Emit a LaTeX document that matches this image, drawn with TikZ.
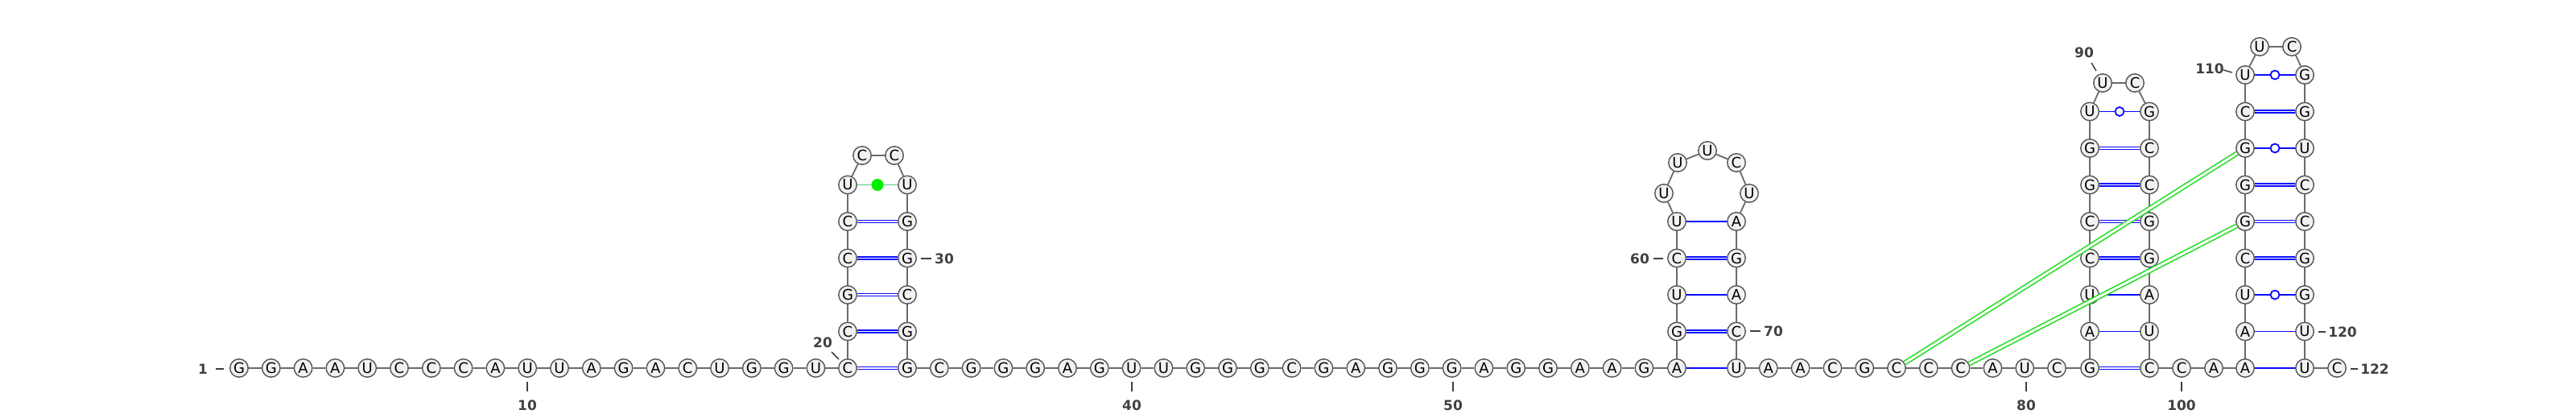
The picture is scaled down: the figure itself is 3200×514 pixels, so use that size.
\documentclass[tikz,border=0pt]{standalone}
\usepackage{fontspec}
\newfontfamily\ntfont{DejaVu Sans}
\definecolor{ntfill}{HTML}{F2F2F2}
\definecolor{ntdraw}{HTML}{555555}
\definecolor{bbcol}{HTML}{6A6A6A}
\definecolor{lblcol}{HTML}{404040}
\definecolor{pairblue}{HTML}{0A0AFF}
\definecolor{pkgreen}{HTML}{22DD22}
\definecolor{dotgreen}{HTML}{00EE00}
\definecolor{dotline}{HTML}{55CC77}
\begin{document}
\begin{tikzpicture}[x=1bp,y=-1bp,
  nt/.style={circle,draw=ntdraw,fill=ntfill,line width=1.4bp,minimum size=22.5bp,inner sep=0pt,
    font=\ntfont\fontsize{18bp}{18bp}\selectfont},
  bb/.style={draw=bbcol,line width=1.8bp},
  aupair/.style={draw=pairblue,line width=1.8bp},
  gcpair/.style={draw=pairblue,line width=1.7bp,double=white,double distance=1.5bp},
  wobble/.style={circle,draw=pairblue,fill=white,line width=1.8bp,minimum size=11bp,inner sep=0pt},
  gdotline/.style={draw=dotline,line width=1.8bp},
  gdot/.style={circle,fill=dotgreen,draw=none,minimum size=15bp,inner sep=0pt},
  pkpair/.style={draw=pkgreen,line width=1.6bp,double=white,double distance=3bp},
  lbl/.style={text=lblcol,font=\ntfont\bfseries\fontsize{17bp}{17bp}\selectfont,inner sep=0pt},
  tickline/.style={draw=lblcol,line width=1.5bp}
]
\useasboundingbox (0,0) rectangle (3200,514);

% ---- nucleotides ----
\foreach \i/\b in {1/G,2/G,3/A,4/A,5/U,6/C,7/C,8/C,9/A,10/U,11/U,12/A,13/G,14/A,15/C,16/U,17/G,18/G,19/U}
  \node[nt] (n\i) at ({297+(\i-1)*39.8},457) {\b};
% hairpin 1
\foreach \i/\b in {20/C,21/C,22/G,23/C,24/C,25/U}
  \node[nt] (n\i) at (1053,{457-(\i-20)*45.5}) {\b};
\node[nt] (n26) at (1071,193) {C};
\node[nt] (n27) at (1111,193) {C};
\foreach \i/\b in {28/U,29/G,30/G,31/C,32/G,33/G}
  \node[nt] (n\i) at (1127,{457-(33-\i)*45.5}) {\b};
\foreach \i/\b in {34/C,35/G,36/G,37/G,38/A,39/G,40/U,41/U,42/G,43/G,44/G,45/C,46/G,47/A,48/G,49/G,50/G,51/A,52/G,53/G,54/A,55/A,56/G}
  \node[nt] (n\i) at ({1127+(\i-33)*39.8},457) {\b};
% hairpin 2
\foreach \i/\b in {57/A,58/G,59/U,60/C,61/U}
  \node[nt] (n\i) at (2083,{457-(\i-57)*45.5}) {\b};
\node[nt] (n62) at (2067,240) {U};
\node[nt] (n63) at (2084,202) {U};
\node[nt] (n64) at (2121,187) {U};
\node[nt] (n65) at (2157,202) {C};
\node[nt] (n66) at (2173,240) {U};
\foreach \i/\b in {67/A,68/G,69/A,70/C,71/U}
  \node[nt] (n\i) at (2157,{457-(71-\i)*45.5}) {\b};
\foreach \i/\b in {72/A,73/A,74/C,75/G,76/C,77/C,78/C,79/A,80/U,81/C}
  \node[nt] (n\i) at ({2157+(\i-71)*39.8},457) {\b};
% hairpin 3
\foreach \i/\b in {82/G,83/A,84/U,85/C,86/C,87/G,88/G,89/U}
  \node[nt] (n\i) at (2596,{457-(\i-82)*45.5}) {\b};
\node[nt] (n90) at (2612,103) {U};
\node[nt] (n91) at (2652,103) {C};
\foreach \i/\b in {92/G,93/C,94/C,95/G,96/G,97/A,98/U,99/C}
  \node[nt] (n\i) at (2670,{457-(99-\i)*45.5}) {\b};
\node[nt] (n100) at (2710,457) {C};
\node[nt] (n101) at (2750,457) {A};
% hairpin 4
\foreach \i/\b in {102/A,103/A,104/U,105/C,106/G,107/G,108/G,109/C,110/U}
  \node[nt] (n\i) at (2789,{457-(\i-102)*45.5}) {\b};
\node[nt] (n111) at (2807,58) {U};
\node[nt] (n112) at (2847,58) {C};
\foreach \i/\b in {113/G,114/G,115/U,116/C,117/C,118/G,119/G,120/U,121/U}
  \node[nt] (n\i) at (2863,{457-(121-\i)*45.5}) {\b};
\node[nt] (n122) at (2903,457) {C};

% ---- backbone ----
\foreach \i [evaluate=\i as \j using int(\i+1)] in {1,...,121}
  \draw[bb] (n\i) -- (n\j);

% ---- base pairs ----
\foreach \a/\c in {20/33,21/32,22/31,23/30,24/29,58/70,60/68,82/99,85/96,86/95,87/94,88/93,105/118,106/117,107/116,109/114}
  \draw[gcpair] (n\a) -- (n\c);
\foreach \a/\c in {57/71,59/69,61/67,83/98,84/97,102/121,103/120}
  \draw[aupair] (n\a) -- (n\c);
\foreach \a/\c in {89/92,104/119,108/115,110/113}
  \draw[aupair] (n\a) -- (n\c) node[wobble,midway] {};
\draw[gdotline] (n25) -- (n28) node[gdot,midway] {};
% pseudoknot
\draw[pkpair] (n76) -- (n108);
\draw[pkpair] (n78) -- (n106);

% ---- position labels ----
\node[lbl] (l1) at (252,458) {1};
\draw[tickline] (268,458) -- (278,458);
\node[lbl] (l10) at (655,503) {10};
\draw[tickline] (655,474) -- (655,486);
\node[lbl] (l20) at (1022,425) {20};
\draw[tickline] (1033,437) -- (1042,446);
\node[lbl] (l30) at (1173,321) {30};
\draw[tickline] (1144,321) -- (1157,321);
\node[lbl] (l40) at (1406,503) {40};
\draw[tickline] (1406,474) -- (1406,486);
\node[lbl] (l50) at (1805,503) {50};
\draw[tickline] (1805,474) -- (1805,486);
\node[lbl] (l60) at (2037,321) {60};
\draw[tickline] (2054,321) -- (2066,321);
\node[lbl] (l70) at (2203,411) {70};
\draw[tickline] (2174,411) -- (2187,411);
\node[lbl] (l80) at (2517,503) {80};
\draw[tickline] (2517,474) -- (2517,486);
\node[lbl] (l90) at (2589,65) {90};
\draw[tickline] (2598,78) -- (2604,88);
\node[lbl] (l100) at (2710,503) {100};
\draw[tickline] (2710,474) -- (2710,486);
\node[lbl] (l110) at (2745,85) {110};
\draw[tickline] (2762,87) -- (2773,90);
\node[lbl] (l120) at (2910,412) {120};
\draw[tickline] (2880,412) -- (2889,412);
\node[lbl] (l122) at (2950,458) {122};
\draw[tickline] (2920,458) -- (2929,458);
\end{tikzpicture}
\end{document}
